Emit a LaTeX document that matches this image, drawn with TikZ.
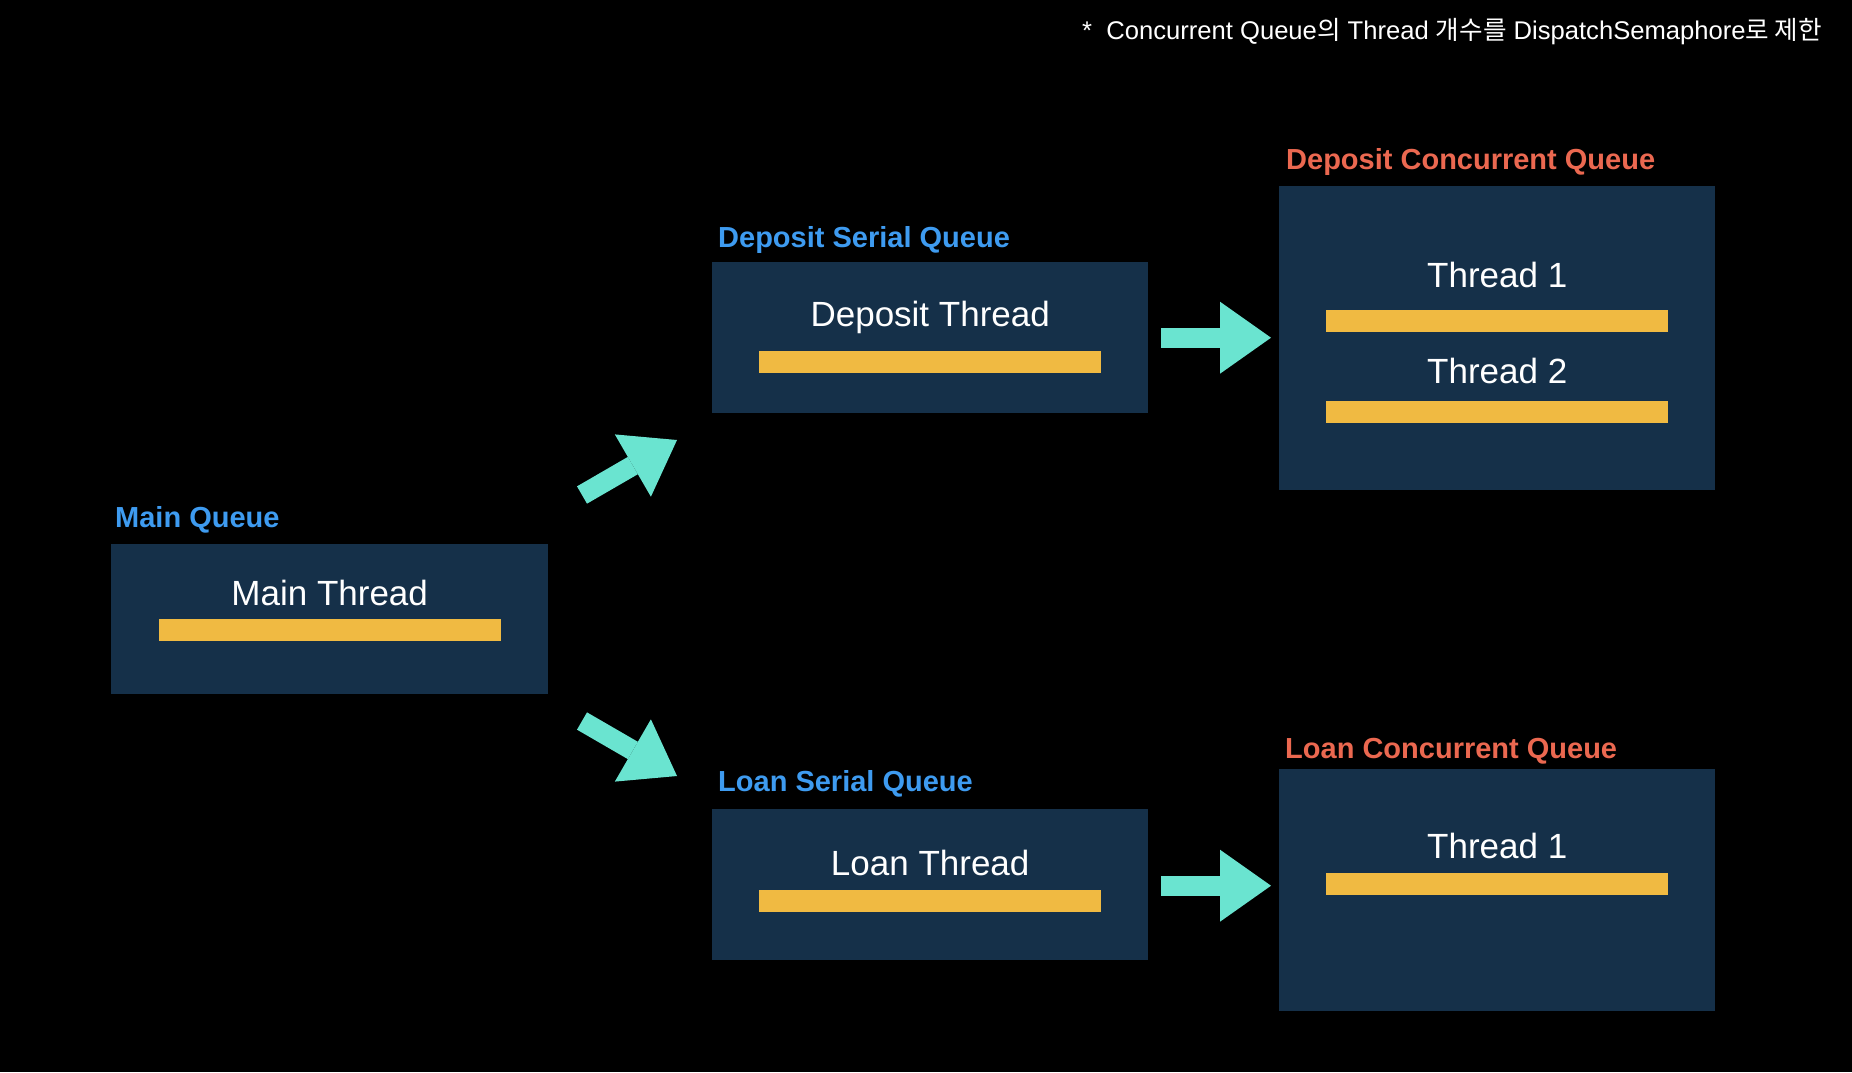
\documentclass[tikz,border=0pt]{standalone}
\usepackage{fontspec}
\setmainfont{Liberation Sans}
\newfontfamily\krfont{Noto Sans CJK KR}
\usetikzlibrary{arrows.meta, positioning}
\usepackage{xcolor}

\definecolor{qnavy}{RGB}{21,48,73}
\definecolor{qbar}{RGB}{240,186,66}
\definecolor{qmint}{RGB}{106,228,208}
\definecolor{qblue}{RGB}{62,155,240}
\definecolor{qred}{RGB}{235,104,80}

\tikzset{
  queuebox/.style={fill=qnavy, anchor=north west, inner sep=0pt},
  workbar/.style={fill=qbar, anchor=north, minimum width=342pt, minimum height=22pt, inner sep=0pt},
  serialname/.style={anchor=base west, inner sep=0pt, text=qblue, font=\fontsize{29}{34}\selectfont\bfseries},
  concname/.style={serialname, text=qred},
  threadname/.style={anchor=base, inner sep=0pt, text=white, font=\fontsize{35}{41}\selectfont},
  fatarrow/.style={draw=qmint, line width=20pt, -{Triangle[width=72pt,length=51pt,line width=0pt]}}
}

\begin{document}
\begin{tikzpicture}[x=1pt, y=-1pt]
        \fill[black] (0,0) rectangle (1852,1072);
        \useasboundingbox (0,0) rectangle (1852,1072);

        \node[anchor=base west, inner sep=0pt, text=white, font=\fontsize{25.6}{30}\selectfont] (note) at (1082,39)
            {*~~Concurrent Queue{\krfont 의} Thread {\krfont 개수를} DispatchSemaphore{\krfont 로 제한}};

        % queue boxes
        \node[queuebox, minimum width=437pt, minimum height=150pt] (main) at (111,544) {};
        \node[queuebox, minimum width=436pt, minimum height=151pt] (dserial) at (712,262) {};
        \node[queuebox, minimum width=436pt, minimum height=151pt] (lserial) at (712,809) {};
        \node[queuebox, minimum width=436pt, minimum height=304pt] (dconc) at (1279,186) {};
        \node[queuebox, minimum width=436pt, minimum height=242pt] (lconc) at (1279,769) {};

        \node[serialname] (mainname) at ([xshift=4pt, yshift=17pt]main.north west) {Main Queue};
        \node[serialname] (dserialname) at ([xshift=6pt, yshift=15pt]dserial.north west) {Deposit Serial Queue};
        \node[serialname] (lserialname) at ([xshift=6pt, yshift=18pt]lserial.north west) {Loan Serial Queue};
        \node[concname] (dconcname) at ([xshift=7pt, yshift=17pt]dconc.north west) {Deposit Concurrent Queue};
        \node[concname] (lconcname) at ([xshift=6pt, yshift=11pt]lconc.north west) {Loan Concurrent Queue};

        % threads
        \node[threadname] (mainth) at ([yshift=-61pt]main.north) {Main Thread};
        \node[workbar] (mainbar) at ([yshift=-75pt]main.north) {};
        \node[threadname] (dserialth) at ([yshift=-64pt]dserial.north) {Deposit Thread};
        \node[workbar] (dserialbar) at ([yshift=-89pt]dserial.north) {};
        \node[threadname] (lserialth) at ([yshift=-66pt]lserial.north) {Loan Thread};
        \node[workbar] (lserialbar) at ([yshift=-81pt]lserial.north) {};
        \node[threadname] (dconcth1) at ([yshift=-101pt]dconc.north) {Thread 1};
        \node[workbar] (dconcbar1) at ([yshift=-124pt]dconc.north) {};
        \node[threadname] (dconcth2) at ([yshift=-197pt]dconc.north) {Thread 2};
        \node[workbar] (dconcbar2) at ([yshift=-215pt]dconc.north) {};
        \node[threadname] (lconcth) at ([yshift=-89pt]lconc.north) {Thread 1};
        \node[workbar] (lconcbar) at ([yshift=-104pt]lconc.north) {};

        % arrows
        \coordinate (uptail) at (582,495);
        \coordinate (uptip) at (677,440);
        \coordinate (downtail) at (582,721);
        \coordinate (downtip) at (677,776);
        \draw[fatarrow] (uptail) -- (uptip);
        \draw[fatarrow] (downtail) -- (downtip);
        \draw[fatarrow, shorten <=13pt, shorten >=8pt] (dserial.east) -- (dserial.east -| dconc.west);
        \draw[fatarrow, shorten <=13pt, shorten >=8pt] ([yshift=-1pt]lserial.east) -- ([yshift=-1pt]lserial.east -| lconc.west);
    \end{tikzpicture}
\end{document}
